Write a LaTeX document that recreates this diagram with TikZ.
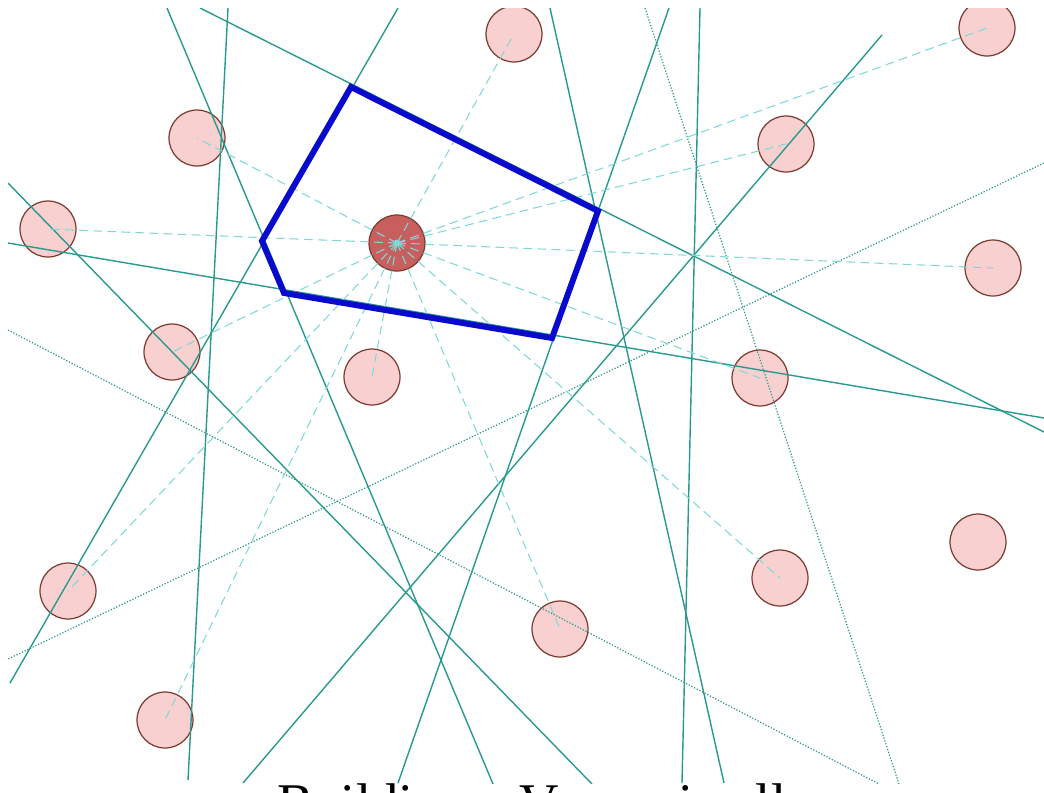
\documentclass[tikz,border=0pt]{standalone}
\usepackage{fontspec}
\setmainfont{Liberation Serif}
\usetikzlibrary{positioning}
\definecolor{sitefill}{HTML}{F9D0D0}
\definecolor{siteedge}{HTML}{7B3B30}
\definecolor{centerfill}{HTML}{C85F5F}
\definecolor{spokecol}{HTML}{7FD9D9}
\definecolor{bisectcol}{HTML}{2B9A8E}
\definecolor{cellblue}{HTML}{0A0ACC}

\begin{document}
\begin{tikzpicture}[x=0.02cm,y=-0.02cm,
    site/.style={circle,draw=siteedge,fill=sitefill,line width=0.7pt,minimum size=1.12cm,inner sep=0pt},
    spoke/.style={draw=spokecol,line width=0.6pt,dash pattern=on 5pt off 3pt},
    bisector/.style={draw=bisectcol,line width=0.8pt},
    faint/.style={draw=bisectcol,line width=0.7pt,densely dotted},
    cell/.style={draw=cellblue,line width=3.4pt,line join=miter}]
  \useasboundingbox (0,0) rectangle (1044,792);
  \fill[white] (0,0) rectangle (1044,792);
  \begin{scope}
    \clip (8,8) rectangle (1044,783);
    \node[site] (p1) at (514,34) {};
    \node[site] (p2) at (987,28) {};
    \node[site] (p3) at (197,138) {};
    \node[site] (p4) at (786,144) {};
    \node[site] (p5) at (48,229) {};
    \node[site] (p6) at (993,268) {};
    \node[site] (p7) at (172,352) {};
    \node[site] (p8) at (372,377) {};
    \node[site] (p9) at (760,378) {};
    \node[site] (p10) at (978,542) {};
    \node[site] (p11) at (780,578) {};
    \node[site] (p12) at (68,591) {};
    \node[site] (p13) at (560,629) {};
    \node[site] (p14) at (165,720) {};
    \node[site,fill=centerfill] (c) at (397,243) {};

    \coordinate (p1a) at (200,8);    \coordinate (p1b) at (1044,432);
    \coordinate (p3a) at (398,8);    \coordinate (p3b) at (10,683);
    \coordinate (p8a) at (8,243);    \coordinate (p8b) at (1044,418);
    \coordinate (p9a) at (669,8);    \coordinate (p9b) at (398,783);
    \coordinate (p7a) at (167,8);    \coordinate (p7b) at (493,784);
    \coordinate (p5a) at (228,8);    \coordinate (p5b) at (188,780);
    \coordinate (p6a) at (700,8);    \coordinate (p6b) at (682,783);
    \coordinate (p4a) at (550,8);    \coordinate (p4b) at (724,783);
    \coordinate (p2a) at (645,8);    \coordinate (p2b) at (899,784);
    \coordinate (p11a) at (882,35);  \coordinate (p11b) at (243,783);
    \coordinate (p13a) at (1044,163); \coordinate (p13b) at (8,659);
    \coordinate (p14a) at (8,330);   \coordinate (p14b) at (879,784);
    \coordinate (p12a) at (8,183);   \coordinate (p12b) at (592,784);

    \draw[bisector] (p1a) -- (p1b);
    \draw[bisector] (p3a) -- (p3b);
    \draw[bisector] (p8a) -- (p8b);
    \draw[bisector] (p9a) -- (p9b);
    \draw[bisector] (p7a) -- (p7b);
    \draw[bisector] (p5a) -- (p5b);
    \draw[bisector] (p6a) -- (p6b);
    \draw[bisector] (p4a) -- (p4b);
    \draw[faint] (p2a) -- (p2b);
    \draw[bisector] (p11a) -- (p11b);
    \draw[faint] (p13a) -- (p13b);
    \draw[faint] (p14a) -- (p14b);
    \draw[bisector] (p12a) -- (p12b);

    \foreach \p in {p1,p2,p3,p4,p5,p6,p7,p8,p9,p11,p12,p13,p14}
      \draw[spoke] (c.center) -- (\p.center);
    \fill[spokecol] (c.center) circle (2pt);

    \coordinate (v1) at (351,87);
    \coordinate (v2) at (598,211);
    \coordinate (v3) at (552,338);
    \coordinate (v4) at (284,293);
    \coordinate (v5) at (262,241);
    \draw[cell] (v1) -- (v2) -- (v3) -- (v4) -- (v5) -- cycle;
  \end{scope}
  \node[anchor=base west,inner sep=0pt,font=\fontsize{31}{31}\selectfont] (title) at (277,821) {Building a Voronoi cell};
\end{tikzpicture}
\end{document}
